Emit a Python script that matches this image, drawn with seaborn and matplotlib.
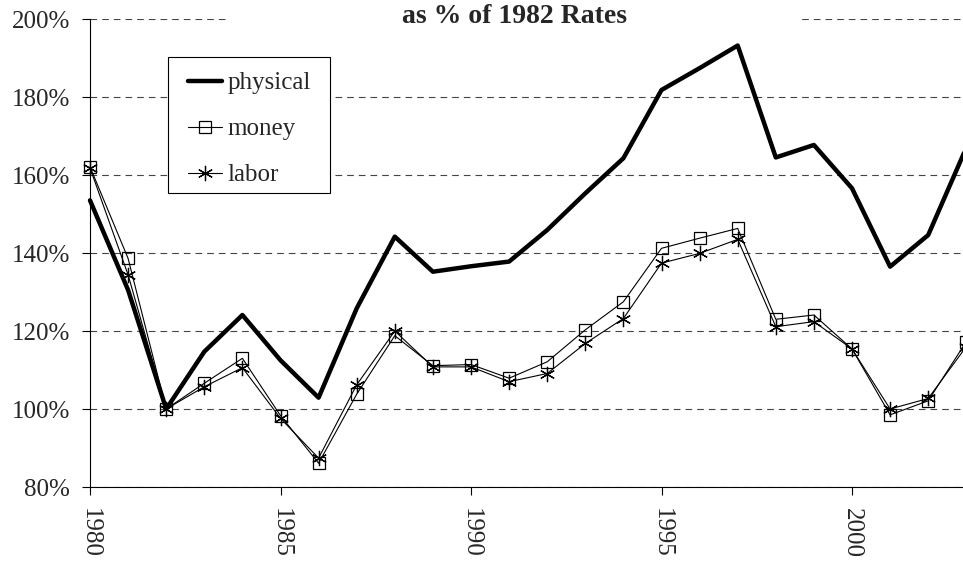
import matplotlib
matplotlib.use("Agg")
import matplotlib.pyplot as plt
import seaborn as sns
import pandas as pd
from matplotlib.patches import Rectangle
from matplotlib.ticker import FuncFormatter

years = list(range(1980, 2004))
physical = [153.5, 130.5, 100.0, 114.7, 124.1, 112.5, 102.9, 125.8, 144.2, 135.2,
            136.6, 137.8, 145.9, 155.3, 164.3, 181.8, 187.4, 193.2, 164.5, 167.7,
            156.6, 136.5, 144.6, 167.0]
money = [162.1, 138.6, 100.0, 106.6, 113.0, 98.3, 86.1, 103.8, 118.8, 111.1,
         111.4, 107.9, 112.1, 120.3, 127.5, 141.2, 143.8, 146.3, 123.0, 124.1,
         115.4, 98.5, 102.1, 117.3]
labor = [161.8, 134.4, 100.0, 105.7, 110.6, 97.6, 87.4, 106.2, 120.0, 110.8,
         110.8, 107.0, 109.1, 116.8, 123.2, 137.4, 139.9, 143.5, 121.1, 122.4,
         115.4, 100.0, 102.7, 116.0]
title = "as % of 1982 Rates"
yticks = [80, 100, 120, 140, 160, 180, 200]
xticks = [1980, 1985, 1990, 1995, 2000]

df = pd.DataFrame({"year": years, "physical": physical, "money": money, "labor": labor})

sns.set_theme(style="white")
plt.rcParams["font.family"] = ["Liberation Serif", "DejaVu Serif"]

W, H = 963, 563
fig = plt.figure(figsize=(W / 100, H / 100), dpi=100)
ax_l, ax_t, ax_r, ax_b = 90, 19, 963, 487
ax = fig.add_axes([ax_l / W, 1 - ax_b / H, (ax_r - ax_l) / W, (ax_b - ax_t) / H])
aw, ah = ax_r - ax_l, ax_b - ax_t


def axx(px):
    return (px - ax_l) / aw


def axy(py):
    return 1 - (py - ax_t) / ah


asterisk = (6, 2, 0)
sns.lineplot(data=df, x="year", y="physical", ax=ax, color="black", lw=3.2,
             label="physical", zorder=4, clip_on=False)
sns.lineplot(data=df, x="year", y="money", ax=ax, color="black", lw=0.8,
             marker="s", markersize=9, markerfacecolor="none",
             markeredgecolor="black", markeredgewidth=0.9, label="money",
             zorder=3, clip_on=False)
sns.lineplot(data=df, x="year", y="labor", ax=ax, color="black", lw=0.8,
             marker=asterisk, markersize=11, markeredgecolor="black",
             markeredgewidth=0.9, label="labor", zorder=3, clip_on=False)

ax.set_xlim(1980, 1980 + aw / 38.1)
ax.set_ylim(80, 200)
ax.set_yticks(yticks)
ax.set_xticks(xticks)
ax.yaxis.set_major_formatter(FuncFormatter(lambda v, p: f"{v:.0f}%"))
ax.set_xlabel("")
ax.set_ylabel("")
ax.tick_params(axis="both", labelsize=18, length=6, width=0.8, color="black",
               direction="out", left=True, bottom=True)
ax.tick_params(axis="x", labelrotation=-90, pad=9)
ax.tick_params(axis="y", pad=8.5)
for lab in ax.get_xticklabels():
    lab.set_verticalalignment("top")

for s in ["top", "right"]:
    ax.spines[s].set_visible(False)
for s in ["left", "bottom"]:
    ax.spines[s].set_color("black")
    ax.spines[s].set_linewidth(0.8)

ax.yaxis.grid(True, linestyle=(0, (6, 4.5)), color="#444444", linewidth=0.8, zorder=0)
ax.set_axisbelow(True)

# white title box covering part of the top grid line
ax.add_patch(Rectangle((axx(228), 0.975), (800 - 228) / aw, 0.05,
                       transform=ax.transAxes, facecolor="white", edgecolor="none",
                       zorder=1, clip_on=False))
fig.text(515 / W, 1 - 16.5 / H, title, ha="center", va="center",
         fontsize=20, fontweight="bold")

# legend frame
ax.add_patch(Rectangle((axx(168), axy(193)), (330 - 168) / aw, (193 - 57) / ah,
                       transform=ax.transAxes, facecolor="white", edgecolor="black",
                       linewidth=0.8, zorder=5, clip_on=False))
leg = ax.legend(loc="center left", bbox_to_anchor=(axx(188), axy(129)),
                fontsize=18, frameon=False, handlelength=1.35, handletextpad=0.22,
                labelspacing=0.94, borderpad=0, borderaxespad=0)
leg.set_zorder(6)

fig.savefig("out.png", dpi=100)
